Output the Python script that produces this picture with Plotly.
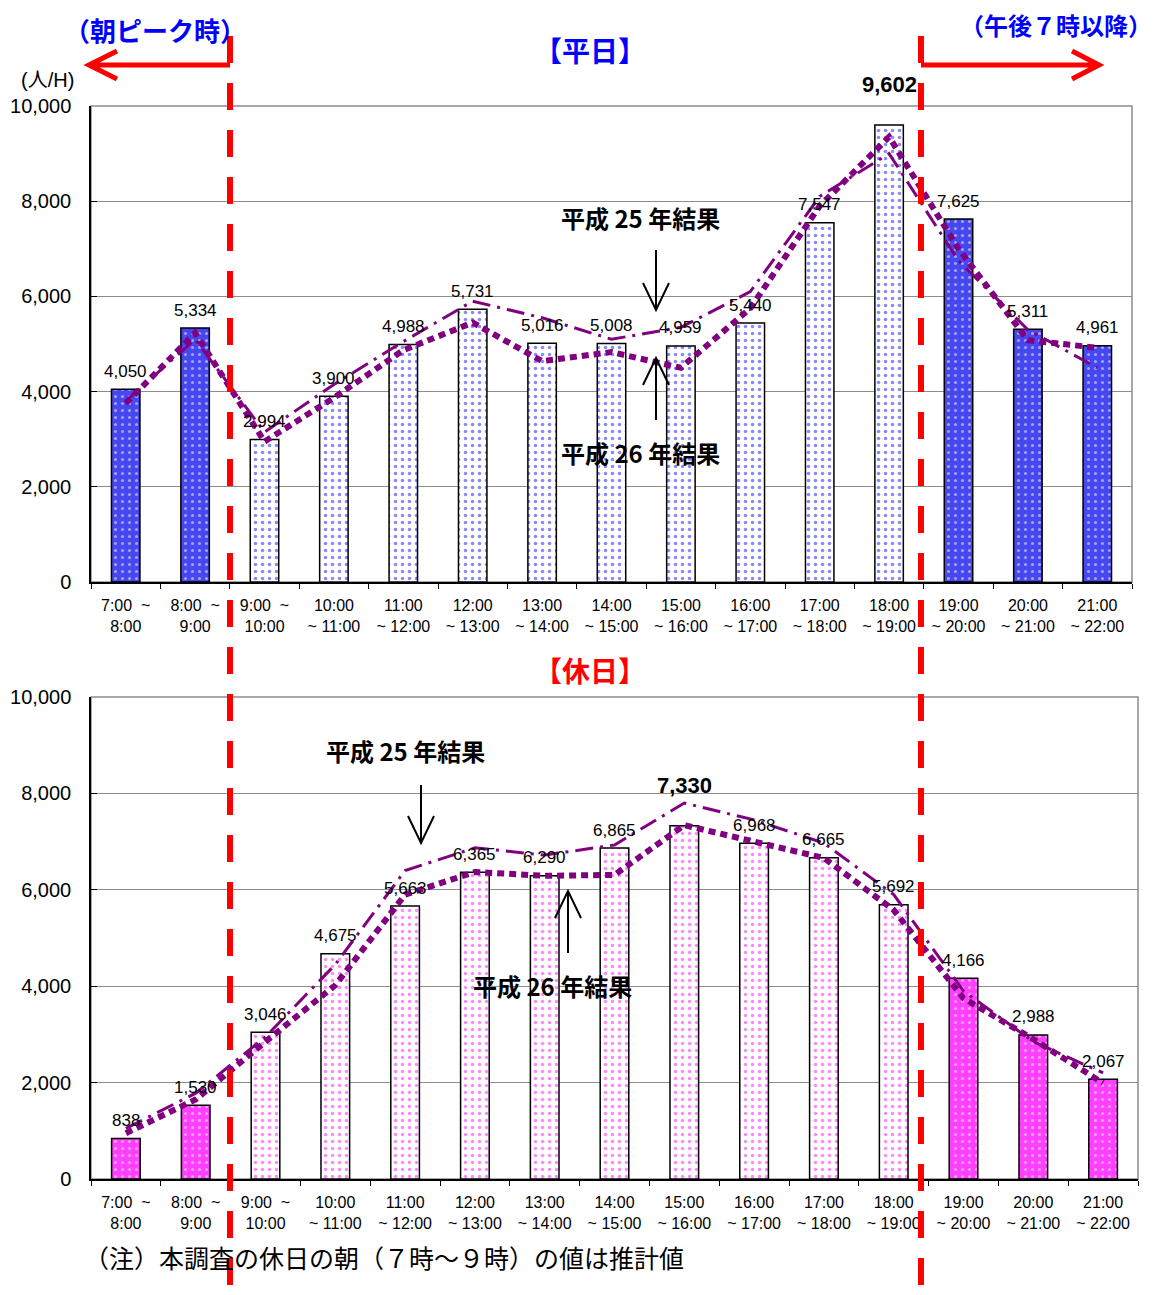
import plotly.graph_objects as go

# ---------------- data ----------------
start_hours = list(range(7, 22))
tick_labels = [
    "7:00\u00a0\u00a0~<br>8:00", "8:00\u00a0\u00a0~<br>9:00", "9:00\u00a0\u00a0~<br>10:00",
    "10:00<br>~ 11:00", "11:00<br>~ 12:00", "12:00<br>~ 13:00", "13:00<br>~ 14:00",
    "14:00<br>~ 15:00", "15:00<br>~ 16:00", "16:00<br>~ 17:00", "17:00<br>~ 18:00",
    "18:00<br>~ 19:00", "19:00<br>~ 20:00", "20:00<br>~ 21:00", "21:00<br>~ 22:00",
]
categories = [f"{h}:00" for h in start_hours]

weekday_now = [4050, 5334, 2994, 3900, 4988, 5731, 5016, 5008, 4959, 5440, 7547, 9602, 7625, 5311, 4961]
weekday_h25 = [3800, 5100, 3150, 4150, 5050, 5900, 5550, 5100, 5350, 6100, 8100, 9000, 6750, 5300, 4500]
weekday_h26 = [3750, 5230, 2950, 3870, 4870, 5450, 4640, 4830, 4500, 5750, 7900, 9350, 7000, 5080, 4920]

holiday_now = [838, 1530, 3046, 4675, 5663, 6365, 6290, 6865, 7330, 6968, 6665, 5692, 4166, 2988, 2067]
holiday_h25 = [1050, 1780, 2950, 4450, 6400, 6870, 6720, 6930, 7800, 7450, 6970, 5900, 3900, 2850, 2200]
holiday_h26 = [950, 1650, 2850, 4020, 5900, 6370, 6290, 6310, 7340, 6990, 6660, 5580, 3750, 2900, 1990]

y_ticks = [0, 2000, 4000, 6000, 8000, 10000]

# ---------------- geometry helpers ----------------
OFF = 8  # page body margin
W, H = 1172 - 2 * OFF, 1295 - 2 * OFF
L, R, T, B = 91, 1138, 106, 1179   # plot area in screen pixels
PW, PH = R - L, B - T


def px(x):
    return (x - L) / PW


def py(y):
    return (B - y) / PH


NUM_FONT = "Liberation Sans, Arial, sans-serif"
JP_FONT = "Noto Sans CJK JP, sans-serif"
PURPLE = "#800080"

is_peak = [h < 9 or h >= 19 for h in start_hours]

fig = go.Figure()


def add_panel(now, h25, h26, xa, ya, dark_bg, light_fg):
    peak_vals = [v if p else None for v, p in zip(now, is_peak)]
    off_vals = [None if p else v for v, p in zip(now, is_peak)]
    fig.add_trace(go.Bar(
        x=categories, y=off_vals, xaxis=xa, yaxis=ya, width=0.41,
        marker=dict(
            color="white",
            line=dict(color="black", width=1.5),
            pattern=dict(shape=".", fgcolor=light_fg, size=7, solidity=0.2,
                         fillmode="overlay"),
        ),
        hoverinfo="skip",
    ))
    fig.add_trace(go.Bar(
        x=categories, y=peak_vals, xaxis=xa, yaxis=ya, width=0.41,
        marker=dict(
            color=dark_bg,
            line=dict(color="black", width=1.5),
            pattern=dict(shape=".", fgcolor="white", size=7, solidity=0.15,
                         fillmode="overlay"),
        ),
        hoverinfo="skip",
    ))
    fig.add_trace(go.Scatter(
        x=categories, y=h25, xaxis=xa, yaxis=ya, mode="lines",
        line=dict(color=PURPLE, width=3, dash="18px,7px,3px,7px"),
        hoverinfo="skip",
    ))
    fig.add_trace(go.Scatter(
        x=categories, y=h26, xaxis=xa, yaxis=ya, mode="lines",
        line=dict(color=PURPLE, width=6, dash="7px,5px"),
        hoverinfo="skip",
    ))
    vmax = max(now)
    for c, v in zip(categories, now):
        top = v == vmax
        fig.add_annotation(
            x=c, y=v, xref=xa, yref=ya, showarrow=False,
            text=(f"<b>{v:,}</b>" if top else f"{v:,}"),
            yshift=(40 if top else 18),
            font=dict(family=NUM_FONT, size=(22 if top else 17), color="black"),
        )


add_panel(weekday_now, weekday_h25, weekday_h26, "x", "y", "#4747f0", "#1010ff")
add_panel(holiday_now, holiday_h25, holiday_h26, "x2", "y2", "#ff40ff", "#ff10ff")

axis_common = dict(
    type="category", categoryorder="array", categoryarray=categories,
    tickvals=categories, ticktext=tick_labels,
    showline=True, linecolor="black", linewidth=1.5,
    ticks="outside", tickson="boundaries", ticklen=5, tickcolor="black",
    tickfont=dict(family=NUM_FONT, size=16, color="black"),
    ticklabelstandoff=8, automargin=False,
    showgrid=False, fixedrange=True,
)
yaxis_common = dict(
    range=[0, 10000], tickvals=y_ticks, tickformat=",d",
    showline=True, linecolor="black", linewidth=1.5,
    ticks="inside", ticklen=6, tickcolor="black",
    tickfont=dict(family=NUM_FONT, size=20, color="black"),
    ticklabelstandoff=14, automargin=False,
    showgrid=True, gridcolor="#8c8c8c", gridwidth=1,
    zeroline=False,
)

top_bottom_px = 582
bot_top_px = 697

fig.update_layout(
    width=W, height=H,
    margin=dict(l=L - OFF, r=W + OFF - R, t=T - OFF, b=H + OFF - B, autoexpand=False),
    paper_bgcolor="white", plot_bgcolor="white",
    showlegend=False, barmode="overlay",
    xaxis=dict(axis_common, domain=[0, 1041 / PW], anchor="y"),
    xaxis2=dict(axis_common, domain=[0, 1], anchor="y2"),
    yaxis=dict(yaxis_common, domain=[py(top_bottom_px), 1], anchor="x"),
    yaxis2=dict(yaxis_common, domain=[0, py(bot_top_px)], anchor="x2"),
)

shapes = []
# plot frames (gray top/right borders)
shapes.append(dict(type="rect", xref="paper", yref="paper",
                   x0=0, x1=1041 / PW, y0=py(top_bottom_px), y1=1,
                   line=dict(color="#8c8c8c", width=1.5), layer="below"))
shapes.append(dict(type="rect", xref="paper", yref="paper",
                   x0=0, x1=1, y0=0, y1=py(bot_top_px),
                   line=dict(color="#8c8c8c", width=1.5), layer="below"))

# red dashed separators
for xv in (230, 921):
    shapes.append(dict(type="line", xref="paper", yref="paper",
                       x0=px(xv), x1=px(xv), y0=py(36), y1=py(1295),
                       line=dict(color="#ff0000", width=6, dash="27px,20px"), layer="above"))

# red horizontal arrows
shapes.append(dict(type="path", xref="paper", yref="paper",
                   path=f"M{px(230)},{py(65)} L{px(89)},{py(65)} "
                        f"M{px(117)},{py(51)} L{px(89)},{py(65)} L{px(117)},{py(79)}",
                   line=dict(color="#ff0000", width=5)))
shapes.append(dict(type="path", xref="paper", yref="paper",
                   path=f"M{px(921)},{py(65)} L{px(1099)},{py(65)} "
                        f"M{px(1072)},{py(51)} L{px(1099)},{py(65)} L{px(1072)},{py(79)}",
                   line=dict(color="#ff0000", width=5)))


def black_arrow(x, y_tail, y_tip, head=27, half=13):
    d = 1 if y_tip > y_tail else -1
    return dict(type="path", xref="paper", yref="paper",
                path=f"M{px(x)},{py(y_tail)} L{px(x)},{py(y_tip)} "
                     f"M{px(x - half)},{py(y_tip - d * head)} L{px(x)},{py(y_tip)} "
                     f"L{px(x + half)},{py(y_tip - d * head)}",
                line=dict(color="black", width=2))


shapes.append(black_arrow(656, 250, 310))
shapes.append(black_arrow(656, 420, 358))
shapes.append(black_arrow(421, 785, 843))
shapes.append(black_arrow(568, 953, 891))

fig.update_layout(shapes=shapes)


def text(x, y, s, size, color="black", family=JP_FONT, xanchor="center", pad=1):
    fig.add_annotation(xref="paper", yref="paper", x=px(x), y=py(y), text=s,
                       showarrow=False, xanchor=xanchor, yanchor="middle",
                       borderpad=pad,
                       font=dict(family=family, size=size, color=color))


text(155, 30, "<b>（朝ピーク時）</b>", 26, "#0000ff")
text(1056, 25, "<b>（午後７時以降）</b>", 24, "#0000ff", pad=0)
text(590, 50, "<b>【平日】</b>", 28, "#0000ff")
text(590, 670, "<b>【休日】</b>", 28, "#ff0000")
text(47, 80, "(人/H)", 20, "black", "Liberation Sans, Noto Sans CJK JP, sans-serif")
text(640, 217, "<b>平成 25 年結果</b>", 24)
text(640, 452, "<b>平成 26 年結果</b>", 24)
text(405, 750, "<b>平成 25 年結果</b>", 24)
text(552, 985, "<b>平成 26 年結果</b>", 24)
text(82, 1257, "（注）本調査の休日の朝（７時～９時）の値は推計値", 25, xanchor="left")

fig.write_html("out.html")
